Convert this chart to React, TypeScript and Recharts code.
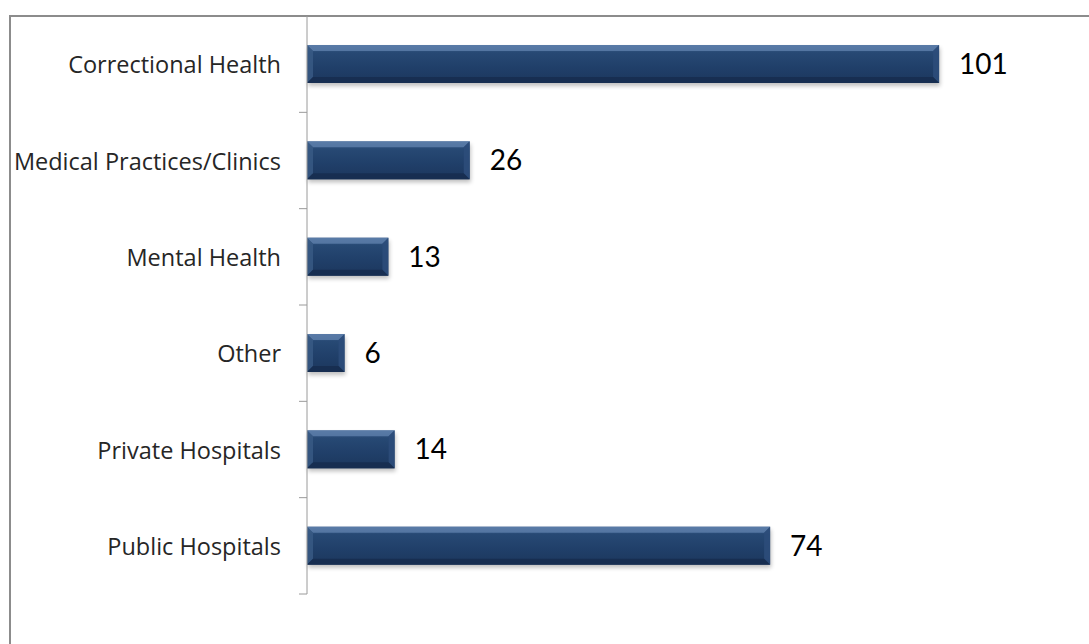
import React from "react";
import { BarChart, Bar, XAxis, YAxis, LabelList } from "recharts";

const categories = [
  "Correctional Health",
  "Medical Practices/Clinics",
  "Mental Health",
  "Other",
  "Private Hospitals",
  "Public Hospitals",
];
const counts = [101, 26, 13, 6, 14, 74];

const data = categories.map((name, i) => ({ name, value: counts[i] }));

const W = 1089;
const H = 644;
const MARGIN = { top: 16, right: 31, bottom: 50, left: 0 };
const BAND = (H - MARGIN.top - MARGIN.bottom) / categories.length;

const CategoryTick = (props: any) => {
  const { x, y, payload } = props;
  const axisX = x + 2;
  return (
    <g>
      <line x1={axisX - 8} x2={axisX} y1={y + BAND / 2} y2={y + BAND / 2} stroke="#9a9a9a" strokeWidth={1} />
      <text
        x={axisX - 26}
        y={y}
        textAnchor="end"
        dominantBaseline="central"
        fontFamily="'Open Sans', sans-serif"
        fontSize={23.5}
        fill="#262626"
      >
        {payload.value}
      </text>
    </g>
  );
};

const BevelBar = (props: any) => {
  const { x, y, width, height } = props;
  if (!width || width <= 0) return null;
  const b = 6;
  return (
    <g>
      <rect x={x + 1} y={y + 3} width={width} height={height} fill="#000" opacity={0.25} filter="url(#barShadow)" />
      <rect x={x} y={y} width={width} height={height} fill="url(#barFill)" />
      <polygon points={`${x},${y} ${x + width},${y} ${x + width - b},${y + b} ${x + b},${y + b}`} fill="#6283af" opacity={0.75} />
      <polygon points={`${x},${y} ${x + b},${y + b} ${x + b},${y + height - b} ${x},${y + height}`} fill="#3a5b86" opacity={0.8} />
      <polygon points={`${x + width},${y} ${x + width},${y + height} ${x + width - b},${y + height - b} ${x + width - b},${y + b}`} fill="#2c4d7a" opacity={0.9} />
      <polygon points={`${x},${y + height} ${x + b},${y + height - b} ${x + width - b},${y + height - b} ${x + width},${y + height}`} fill="#172e50" opacity={0.9} />
    </g>
  );
};

export default function App() {
  return (
    <div style={{ position: "absolute", left: 0, top: 0, width: W, height: H, overflow: "hidden", background: "#fff" }}>
      <div
        style={{
          position: "absolute",
          left: 9,
          top: 15,
          width: 1200,
          height: 800,
          borderTop: "2px solid #8c8c8c",
          borderLeft: "2px solid #8c8c8c",
        }}
      />
      <div style={{ position: "absolute", left: 0, top: 0 }}>
        <BarChart width={W} height={H} data={data} layout="vertical" margin={MARGIN}>
          <defs>
            <linearGradient id="barFill" x1="0" y1="0" x2="0" y2="1">
              <stop offset="0%" stopColor="#41638f" />
              <stop offset="20%" stopColor="#274974" />
              <stop offset="60%" stopColor="#203f69" />
              <stop offset="100%" stopColor="#1c375d" />
            </linearGradient>
            <filter id="barShadow" x="-10%" y="-30%" width="120%" height="160%">
              <feGaussianBlur stdDeviation="2" />
            </filter>
          </defs>
          <XAxis type="number" domain={[0, 120]} hide />
          <YAxis
            type="category"
            dataKey="name"
            width={307}
            axisLine={{ stroke: "#9a9a9a", strokeWidth: 1 }}
            tickLine={false}
            tickSize={0}
            tick={<CategoryTick />}
            interval={0}
          />
          <Bar dataKey="value" barSize={38} shape={<BevelBar />} isAnimationActive={false}>
            <LabelList
              dataKey="value"
              position="right"
              offset={20}
              style={{ fontFamily: "Lato, sans-serif", fontSize: 28, fill: "#000" }}
            />
          </Bar>
        </BarChart>
      </div>
    </div>
  );
}
